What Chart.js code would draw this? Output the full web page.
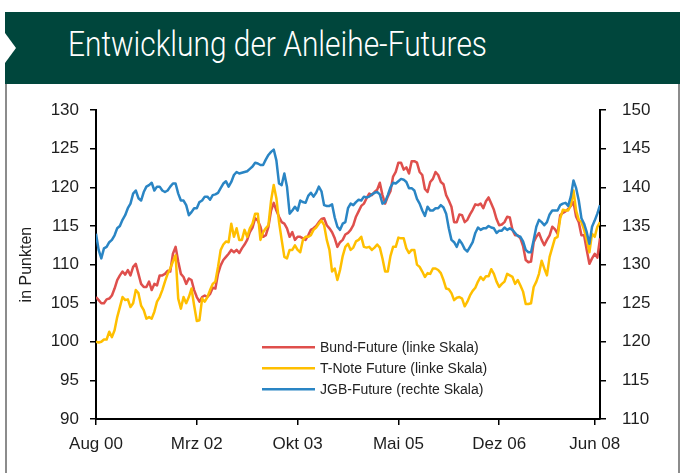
<!DOCTYPE html>
<html lang="de">
<head>
<meta charset="utf-8">
<title>Entwicklung der Anleihe-Futures</title>
<script src="https://cdn.jsdelivr.net/npm/chart.js@4.4.0/dist/chart.umd.min.js"></script>
<style>
  html, body { margin: 0; padding: 0; background: #fff; }
  #page { position: relative; width: 680px; height: 473px; overflow: hidden; background: #fff; }
  #band { position: absolute; left: 5px; top: 12px; width: 675px; height: 72px; background: #00463c; }
  #notch { position: absolute; left: 5px; top: 33px; width: 0; height: 0;
           border-top: 15px solid transparent; border-bottom: 15px solid transparent;
           border-left: 11px solid #fff; }
  #title { position: absolute; left: 68px; top: 27px; color: #fff; white-space: nowrap;
           font-family: Roboto, "Liberation Sans Narrow", "Liberation Sans", sans-serif;
           font-weight: 300; font-size: 35px; line-height: 35px; transform-origin: left top; }
  #wrap { position: absolute; left: 0; top: 84px; width: 680px; height: 389px; }
  .frame { position: absolute; top: 84px; width: 2px; height: 389px; background: #8c8c8c; }
</style>
</head>
<body>
<div id="page">
  <div id="band"></div>
  <div id="notch"></div>
  <div id="title">Entwicklung der Anleihe-Futures</div>
  <div id="wrap"><canvas id="chart" width="680" height="389"></canvas></div>
  <div class="frame" style="left:5px"></div>
  <div class="frame" style="left:678px"></div>
</div>
<script>
// Half-monthly closes, Aug 2000 (index 0) to Jul 2008 (index 190)
const bund = [
  105.8, 105.4, 105.0, 105.0, 105.5, 105.6, 106.0, 106.9, 108.0, 108.6, 109.1, 108.7, 109.3, 108.6, 109.7, 110.1,
  108.8, 107.5, 107.1, 107.1, 107.8, 106.7, 107.5, 107.3, 108.6, 108.6, 108.8, 109.2, 109.1, 111.4, 112.3, 110.4,
  108.8, 108.4, 107.5, 108.2, 108.0, 106.7, 105.8, 105.2, 105.8, 106.0, 105.8, 106.2, 107.0, 106.9, 108.8, 109.9,
  110.6, 111.0, 111.4, 111.9, 111.6, 111.9, 111.5, 112.1, 112.6, 113.2, 114.2, 114.8, 116.0, 115.7, 114.9, 113.6,
  113.8, 114.9, 117.0, 118.0, 117.0, 116.2, 115.5, 115.3, 114.7, 113.6, 114.2, 113.2, 113.6, 113.6, 113.4, 113.2,
  113.8, 114.5, 114.7, 115.0, 115.5, 115.9, 116.0, 115.1, 114.7, 114.2, 113.4, 112.3, 112.9, 113.2, 113.9, 114.1,
  114.5, 115.1, 116.2, 116.9, 117.6, 117.9, 118.6, 119.2, 119.0, 119.4, 119.7, 120.6, 119.0, 117.9, 118.8, 119.5,
  121.4, 122.0, 123.2, 123.2, 122.3, 122.6, 121.8, 123.4, 123.4, 123.2, 122.0, 121.6, 119.8, 119.4, 120.7, 121.1,
  122.0, 121.6, 120.7, 120.4, 119.0, 118.3, 117.5, 115.5, 115.5, 116.5, 116.4, 115.5, 115.8, 116.5, 117.1, 117.8,
  117.7, 117.9, 117.3, 118.2, 118.7, 117.9, 117.1, 115.9, 115.1, 115.2, 115.5, 116.2, 116.1, 114.5, 113.8, 113.8,
  113.4, 112.4, 110.6, 110.3, 110.4, 112.9, 113.6, 114.1, 113.2, 112.5, 113.2, 113.8, 114.9, 114.6, 114.0, 116.4,
  116.7, 116.9, 117.2, 117.6, 118.1, 116.2, 115.5, 113.8, 113.8, 111.9, 110.1, 110.8, 111.4, 110.9, 113.4
];
const tnote = [
  100.0, 99.9, 100.0, 100.3, 100.3, 101.3, 100.6, 101.5, 103.2, 104.5, 105.8, 105.4, 105.5, 104.5, 105.0, 106.7,
  106.3, 104.7, 104.1, 103.0, 103.2, 103.0, 103.9, 105.2, 105.8, 106.7, 107.8, 108.8, 109.5, 110.4, 111.2, 105.6,
  104.3, 105.8, 105.0, 105.8, 106.9, 104.7, 102.7, 102.8, 105.6, 105.2, 105.8, 106.7, 107.5, 107.8, 109.7, 111.9,
  112.6, 113.0, 112.9, 115.3, 113.6, 114.7, 113.2, 113.2, 114.5, 113.6, 114.7, 115.3, 116.6, 116.6, 113.2, 114.2,
  114.7, 115.1, 118.3, 120.3, 118.6, 115.5, 113.2, 111.0, 110.8, 111.9, 111.9, 112.5, 111.9, 111.6, 113.2, 113.6,
  113.6, 113.8, 114.5, 114.8, 115.3, 115.7, 115.1, 113.2, 111.9, 109.1, 109.5, 108.0, 109.3, 111.1, 112.3, 112.7,
  111.9, 112.2, 113.0, 113.2, 113.6, 112.3, 112.2, 112.3, 111.9, 112.2, 112.6, 112.2, 110.8, 109.1, 109.1, 111.1,
  112.3, 112.3, 113.5, 113.4, 113.4, 112.1, 111.5, 111.9, 111.9, 110.0, 109.7, 109.1, 108.4, 108.9, 108.8, 109.5,
  109.5, 109.3, 108.9, 108.0, 106.9, 106.8, 106.3, 105.4, 105.7, 105.8, 105.6, 104.6, 105.2, 106.0, 106.6, 107.0,
  107.8, 108.4, 108.0, 108.5, 108.5, 109.4, 108.8, 107.8, 107.1, 107.5, 107.8, 108.8, 108.6, 108.4, 107.5, 108.0,
  107.3, 106.5, 104.9, 104.9, 105.0, 107.1, 107.8, 108.8, 110.5, 109.5, 108.6, 111.0, 112.2, 113.4, 113.6, 116.0,
  117.1, 117.0, 117.0, 117.7, 119.6, 117.0, 115.8, 115.5, 114.5, 113.2, 111.6, 114.0, 113.6, 114.9, 115.5
];
const jgb = [
  134.0, 131.9, 130.8, 132.1, 132.3, 132.9, 133.2, 133.8, 134.7, 135.0, 135.8, 136.4, 137.3, 137.9, 139.2, 139.6,
  138.6, 138.3, 139.4, 140.1, 140.3, 140.6, 139.6, 140.1, 140.1, 139.6, 139.4, 139.6, 140.1, 140.5, 140.5, 139.2,
  138.3, 138.3, 137.7, 136.4, 136.8, 137.3, 137.3, 138.1, 138.3, 138.8, 138.8, 138.4, 139.0, 139.1, 139.3, 139.9,
  140.5, 140.8, 140.1, 140.7, 141.6, 142.0, 141.8, 141.9, 142.0, 142.1, 142.4, 142.7, 143.2, 143.1, 142.9, 142.9,
  143.6, 144.2, 144.6, 144.9, 143.5, 140.5, 140.3, 141.8, 140.1, 136.6, 137.0, 137.5, 137.0, 138.3, 138.1, 138.0,
  138.9, 139.3, 138.8, 139.3, 140.1, 139.5, 137.7, 137.6, 137.6, 137.8, 136.1, 134.9, 134.5, 135.3, 135.5, 137.3,
  137.9, 137.7, 138.1, 138.4, 138.3, 138.8, 138.7, 138.8, 139.1, 139.3, 139.4, 139.1, 137.9, 138.1, 139.0, 140.0,
  140.6, 140.5, 140.8, 141.1, 141.0, 140.7, 139.9, 139.9, 139.6, 138.5, 137.9, 137.0, 136.3, 137.5, 137.0, 137.0,
  137.3, 137.3, 137.7, 137.4, 136.6, 134.7, 133.2, 132.9, 132.3, 133.2, 132.7, 132.0, 131.7, 132.3, 132.9, 134.1,
  134.8, 134.5, 134.7, 134.7, 135.0, 134.8, 134.7, 134.1, 134.4, 134.4, 134.8, 134.5, 134.7, 134.5, 134.1, 133.7,
  133.6, 133.0, 131.9, 131.6, 131.6, 133.2, 134.9, 135.8, 135.5, 135.1, 135.5, 136.5, 137.0, 137.0, 137.0, 137.7,
  137.9, 138.0, 137.6, 138.8, 140.9, 139.9, 138.3, 136.0, 135.3, 134.2, 132.7, 134.9, 135.7, 136.6, 137.7
];

// Axis labelling (positions in months after Aug 2000)
const dateTickMonth = [0, 19, 38, 57, 76, 94];
const dateTickLabels = ['Aug 00', 'Mrz 02', 'Okt 03', 'Mai 05', 'Dez 06', 'Jun 08'];
const leftRange = [90, 130];
const rightRange = [110, 150];
const seriesNames = ['Bund-Future (linke Skala)', 'T-Note Future (linke Skala)', 'JGB-Future (rechte Skala)'];
const seriesColors = ['#df4f4c', '#ffbf00', '#2a85c4'];

// Fit the condensed headline to its box
(function () {
  const t = document.getElementById('title');
  const w = t.getBoundingClientRect().width;
  t.style.transform = 'scaleX(' + (419 / w) + ')';
})();

// one observation every half month
const toPoints = arr => arr.map((v, i) => ({ x: i / 2, y: v }));
const lastMonth = (bund.length - 1) / 2;

const FONT = '"Liberation Sans", Arial, Helvetica, sans-serif';

// Legend drawn inside the plot, below the curves
const plotLegend = {
  id: 'plotLegend',
  afterDatasetsDraw(chart) {
    const { ctx, chartArea } = chart;
    const x0 = chartArea.left + 166;
    const y0 = chartArea.top + 237;
    ctx.save();
    ctx.font = '14px ' + FONT;
    ctx.textBaseline = 'middle';
    ctx.textAlign = 'left';
    chart.data.datasets.forEach((ds, i) => {
      const y = y0 + i * 21;
      ctx.strokeStyle = ds.borderColor;
      ctx.lineWidth = 2.5;
      ctx.beginPath();
      ctx.moveTo(x0, y);
      ctx.lineTo(x0 + 53, y);
      ctx.stroke();
      ctx.fillStyle = '#222';
      ctx.fillText(ds.label, x0 + 58, y + 1);
    });
    ctx.restore();
  }
};

const axisGrid = { display: true, drawOnChartArea: false, drawTicks: true, tickLength: 6, color: '#000', lineWidth: 1.5 };
const axisBorder = { display: true, color: '#000', width: 2 };
const tickFont = { family: FONT, size: 17 };

new Chart(document.getElementById('chart'), {
  type: 'line',
  data: {
    datasets: [
      { label: seriesNames[0], data: toPoints(bund), yAxisID: 'y', borderColor: seriesColors[0], order: 2 },
      { label: seriesNames[1], data: toPoints(tnote), yAxisID: 'y', borderColor: seriesColors[1], order: 1 },
      { label: seriesNames[2], data: toPoints(jgb), yAxisID: 'y2', borderColor: seriesColors[2], order: 0 }
    ]
  },
  options: {
    responsive: false,
    animation: false,
    layout: { padding: { top: 26, left: 0, right: 0, bottom: 0 } },
    elements: {
      line: { borderWidth: 2.5, tension: 0, fill: false, borderJoinStyle: 'round' },
      point: { radius: 0, hoverRadius: 0 }
    },
    plugins: { legend: { display: false }, tooltip: { enabled: false } },
    scales: {
      x: {
        type: 'linear', min: 0, max: lastMonth,
        grid: axisGrid, border: axisBorder,
        afterBuildTicks: s => { s.ticks = dateTickMonth.map(v => ({ value: v })); },
        afterFit: s => { s.height = 54; },
        ticks: {
          autoSkip: false, maxRotation: 0, padding: 9,
          color: '#1e1e1e', font: tickFont,
          callback: (v, i) => dateTickLabels[i]
        }
      },
      y: {
        position: 'left', min: leftRange[0], max: leftRange[1],
        grid: axisGrid, border: axisBorder,
        afterFit: s => { s.width = 96; },
        ticks: { stepSize: 5, padding: 11, color: '#1e1e1e', font: tickFont },
        title: { display: true, text: 'in Punkten', color: '#1e1e1e',
                 font: { family: FONT, size: 16 }, padding: { top: 17, bottom: 0 } }
      },
      y2: {
        position: 'right', min: rightRange[0], max: rightRange[1],
        grid: axisGrid, border: axisBorder,
        afterFit: s => { s.width = 80; },
        ticks: { stepSize: 5, padding: 16, color: '#1e1e1e', font: tickFont }
      }
    }
  },
  plugins: [plotLegend]
});
</script>
</body>
</html>
